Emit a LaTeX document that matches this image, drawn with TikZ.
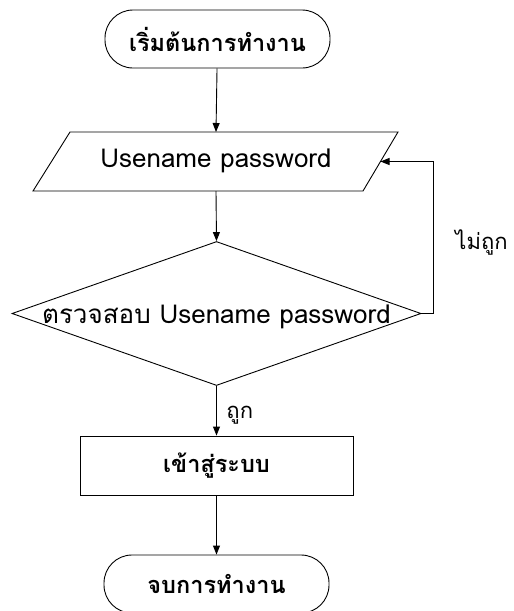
\documentclass[tikz,border=0pt]{standalone}
\usepackage{fontspec}
\setmainfont[Script=Thai]{Loma}
\usetikzlibrary{shapes.geometric,arrows.meta}
\begin{document}
\begin{tikzpicture}[x=1pt,y=-1pt, line width=0.9pt,
  term/.style={draw, rounded corners=28pt, minimum width=225pt, minimum height=58pt, inner sep=0pt, font=\bfseries\fontsize{23.5}{26}\selectfont},
  procbox/.style={draw, minimum width=273pt, minimum height=59pt, inner sep=0pt, font=\bfseries\fontsize{23.5}{26}\selectfont},
  decbox/.style={draw, diamond, minimum width=409pt, minimum height=144pt, inner sep=0pt},
  txt/.style={inner sep=0pt, font=\fontsize{26}{29}\selectfont},
  lbl/.style={inner sep=0pt, font=\fontsize{22}{25}\selectfont},
  arr/.style={-{Triangle[length=9pt,width=7pt]}}]
\useasboundingbox (0,0) rectangle (514,611);
\node[term] (start) at (217.5,39) {เริ่มต้นการทำงาน};
% input parallelogram
\draw (70,132) -- (398,132) -- (363,191) -- (33,191) -- cycle;
\node[txt] (inp) at (216,161) {Usename password};
\coordinate (inTop) at (216,132);
\coordinate (inBot) at (216,191);
\coordinate (inRight) at (380.5,161.5);
\coordinate (loopc) at (433,313.5);
% decision
\node[decbox] (chk) at (216.5,313.5) {};
\node[txt] (chkt) at (216.5,317) {ตรวจสอบ Usename password};
\node[procbox] (login) at (216.5,465.5) {เข้าสู่ระบบ};
\node[term] (stop) at (216.5,584) {จบการทำงาน};
% connectors
\draw[arr] (start) -- (inTop);
\draw[arr] (inBot) -- (chk.north);
\draw[arr] (chk.south) -- (login);
\draw[arr] (login) -- (stop);
\draw[arr] (chk.east) -- (loopc) |- (inRight);
% labels
\node[lbl, anchor=west] (no) at (455,242) {ไม่ถูก};
\node[lbl, anchor=west] (yes) at (226,415) {ถูก};
\end{tikzpicture}
\end{document}
